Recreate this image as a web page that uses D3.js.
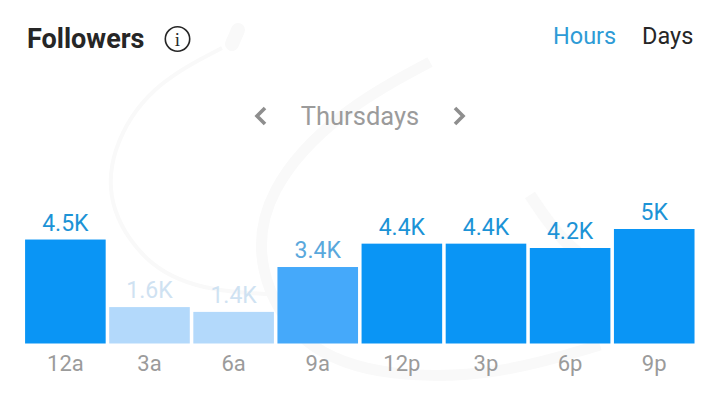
<!DOCTYPE html>
<html><head><meta charset="utf-8">
<script src="https://cdnjs.cloudflare.com/ajax/libs/d3/7.8.5/d3.min.js"></script>
<style>html,body{margin:0;padding:0;background:#fff}svg{display:block}text{font-family:Roboto,sans-serif}</style>
</head><body><svg id="c" width="720" height="405"></svg>
<script>
const categories=["12a","3a","6a","9a","12p","3p","6p","9p"];
const followers=[4.54,1.59,1.38,3.34,4.36,4.36,4.17,5.0];
const valueLabels=["4.5K","1.6K","1.4K","3.4K","4.4K","4.4K","4.2K","5K"];
const barColors=["#0a95f5","#b3d9fb","#b3d9fb","#45a9fa","#0a95f5","#0a95f5","#0a95f5","#0a95f5"];
const labelColors=["#1c93d6","#cfe2f2","#cfe2f2","#5aa8dc","#1c93d6","#1c93d6","#1c93d6","#1c93d6"];

const svg=d3.select("#c");
// faint watermark
const wm=svg.append("g").attr("fill","none").attr("stroke","#f9f9f9");
const line=d3.line().curve(d3.curveBasis);
wm.append("path").attr("stroke-width",4).attr("d",line([[222,48],[150,85],[110,150],[108,210],[150,270],[210,292],[290,295]]));
wm.append("path").attr("stroke-width",11).attr("d",line([[430,62],[340,110],[265,190],[255,270],[300,350],[390,378],[500,375],[600,345]]));
wm.append("path").attr("stroke-width",14).attr("stroke-linecap","round").attr("d",line([[238,30],[235,37],[232,44]]));
wm.append("path").attr("stroke-width",12).attr("d",line([[530,195],[560,240],[600,270]]));

const x=d3.scaleBand().domain(categories).range([23.4,696.2]).paddingInner(0.042).paddingOuter(0.02);
const y=d3.scaleLinear().domain([0,5]).range([343.5,229]);
const g=svg.append("g");
g.selectAll("rect").data(categories).join("rect")
 .attr("x",d=>x(d)).attr("width",x.bandwidth())
 .attr("y",(d,i)=>y(followers[i])).attr("height",(d,i)=>y(0)-y(followers[i]))
 .attr("fill",(d,i)=>barColors[i]);
g.selectAll("text.v").data(categories).join("text").attr("class","v")
 .attr("x",d=>x(d)+x.bandwidth()/2).attr("y",(d,i)=>y(followers[i])-9)
 .attr("text-anchor","middle").attr("font-size",23).attr("fill",(d,i)=>labelColors[i])
 .text((d,i)=>valueLabels[i]);
const ax=svg.append("g").attr("transform","translate(0,343.5)")
 .call(d3.axisBottom(x).tickSize(0).tickPadding(12));
ax.select(".domain").remove();
ax.selectAll("text").attr("font-size",22).attr("font-family","Roboto").attr("fill","#9b9b9b").attr("dy","0.71em");

svg.append("text").attr("x",27).attr("y",48).attr("font-size",27).attr("font-weight",700).attr("fill","#262626").text("Followers");
svg.append("circle").attr("cx",177.5).attr("cy",39).attr("r",12.2).attr("fill","none").attr("stroke","#262626").attr("stroke-width",1.6);
svg.append("text").attr("x",177.5).attr("y",46).attr("text-anchor","middle").attr("font-size",19).attr("style","font-family:'Liberation Serif'").attr("fill","#262626").text("i");
svg.append("text").attr("x",553).attr("y",44).attr("font-size",23.5).attr("fill","#2e9bd6").text("Hours");
svg.append("text").attr("x",642).attr("y",44).attr("font-size",23.5).attr("fill","#262626").text("Days");
svg.append("text").attr("x",360).attr("y",125).attr("text-anchor","middle").attr("font-size",25.5).attr("fill","#9b9b9b").text("Thursdays");
const chev=d3.line();
svg.append("path").attr("d",chev([[265,108],[257,116],[265,124]])).attr("fill","none").attr("stroke","#8e8e8e").attr("stroke-width",3.6);
svg.append("path").attr("d",chev([[455,108],[463,116],[455,124]])).attr("fill","none").attr("stroke","#8e8e8e").attr("stroke-width",3.6);
</script></body></html>
